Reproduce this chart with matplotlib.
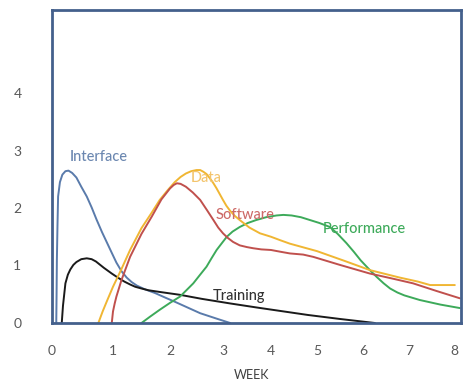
import numpy as np
import matplotlib
matplotlib.use("Agg")
import matplotlib.pyplot as plt

# ---- data (week, effort) ----
interface_x = [0.07, 0.075, 0.08, 0.09, 0.10, 0.13, 0.17, 0.22, 0.27, 0.33, 0.40, 0.48, 0.57, 0.65, 0.73, 0.82, 0.90, 0.98, 1.06, 1.15, 1.24, 1.33, 1.42, 1.55, 1.74, 1.92, 2.09, 2.33, 2.57, 2.90, 3.15]
interface_y = [0.0, 0.5, 1.1, 1.7, 2.2, 2.45, 2.58, 2.64, 2.65, 2.61, 2.53, 2.37, 2.20, 2.01, 1.80, 1.58, 1.40, 1.22, 1.05, 0.90, 0.79, 0.71, 0.65, 0.59, 0.52, 0.44, 0.37, 0.27, 0.17, 0.07, 0.0]

training_x = [0.16, 0.18, 0.22, 0.26, 0.30, 0.35, 0.40, 0.48, 0.57, 0.65, 0.72, 0.85, 0.98, 1.10, 1.20, 1.30, 1.39, 1.50, 1.62, 1.82, 2.19, 2.60, 3.15, 3.70, 4.20, 4.80, 5.50, 6.26]
training_y = [0.0, 0.30, 0.69, 0.84, 0.93, 1.01, 1.06, 1.11, 1.125, 1.11, 1.07, 0.96, 0.86, 0.78, 0.72, 0.67, 0.63, 0.60, 0.57, 0.54, 0.49, 0.42, 0.34, 0.27, 0.21, 0.14, 0.07, 0.0]

data_x = [0.76, 0.83, 0.90, 1.00, 1.14, 1.30, 1.50, 1.68, 1.82, 1.96, 2.09, 2.20, 2.30, 2.40, 2.50, 2.57, 2.63, 2.69, 2.75, 2.82, 2.88, 2.94, 3.00, 3.07, 3.15, 3.25, 3.35, 3.55, 3.77, 4.00, 4.20, 4.41, 5.00, 5.60, 6.15, 6.80, 7.20, 7.47, 8.02]
data_y = [0.0, 0.20, 0.38, 0.63, 0.92, 1.27, 1.65, 1.92, 2.14, 2.31, 2.45, 2.54, 2.60, 2.64, 2.66, 2.66, 2.63, 2.59, 2.52, 2.43, 2.34, 2.24, 2.14, 2.04, 1.95, 1.86, 1.79, 1.66, 1.56, 1.50, 1.44, 1.38, 1.25, 1.08, 0.92, 0.79, 0.72, 0.66, 0.66]

software_x = [0.98, 1.00, 1.03, 1.06, 1.15, 1.30, 1.50, 1.68, 1.85, 2.00, 2.07, 2.13, 2.20, 2.30, 2.43, 2.57, 2.70, 2.82, 2.91, 3.00, 3.10, 3.21, 3.35, 3.50, 3.63, 3.80, 4.00, 4.20, 4.41, 4.70, 4.92, 5.50, 6.15, 6.60, 7.09, 7.60, 8.13]
software_y = [0.0, 0.20, 0.34, 0.46, 0.75, 1.15, 1.55, 1.85, 2.15, 2.34, 2.40, 2.43, 2.42, 2.37, 2.27, 2.14, 1.96, 1.79, 1.66, 1.56, 1.48, 1.41, 1.35, 1.32, 1.30, 1.28, 1.27, 1.24, 1.21, 1.19, 1.15, 1.01, 0.86, 0.78, 0.69, 0.56, 0.43]

perf_x = [1.50, 1.65, 1.82, 2.00, 2.19, 2.31, 2.44, 2.56, 2.69, 2.78, 2.88, 2.98, 3.08, 3.20, 3.35, 3.52, 3.69, 3.90, 4.12, 4.27, 4.45, 4.65, 4.85, 5.05, 5.28, 5.45, 5.64, 5.80, 5.95, 6.15, 6.30, 6.45, 6.59, 6.75, 6.90, 7.24, 7.70, 8.13]
perf_y = [0.0, 0.11, 0.23, 0.35, 0.46, 0.57, 0.69, 0.83, 0.98, 1.12, 1.27, 1.39, 1.50, 1.59, 1.67, 1.74, 1.79, 1.84, 1.87, 1.88, 1.87, 1.84, 1.79, 1.74, 1.67, 1.55, 1.39, 1.24, 1.09, 0.92, 0.80, 0.69, 0.60, 0.53, 0.48, 0.40, 0.32, 0.26]

x_ticks = [0, 1, 2, 3, 4, 5, 6, 7, 8]
y_ticks = [0, 1, 2, 3, 4]

# axis calibration of the (non-uniform) week axis in the original picture
scale_weeks = [-1, 0, 1, 2, 3, 4, 5, 6, 7, 8, 9]
scale_pos = [-9, 52, 113, 170, 223, 271, 317, 363, 409, 454, 499]

W, H = 469, 381
fig = plt.figure(figsize=(W / 100, H / 100), dpi=100)
plt.rcParams['font.family'] = ['Lato', 'DejaVu Sans']

ax = fig.add_axes([52 / W, 1 - 323 / H, (460.7 - 52) / W, (323 - 10) / H])

def fwd(x):
    return np.interp(x, scale_weeks, scale_pos)

def inv(p):
    return np.interp(p, scale_pos, scale_weeks)

ax.set_xscale('function', functions=(fwd, inv))

lw = 1.4
kw = dict(lw=lw, solid_joinstyle='round', solid_capstyle='round')
ax.plot(interface_x, interface_y, color='#5a7bab', **kw)
ax.plot(training_x, training_y, color='#1a1a1a', **kw)
ax.plot(perf_x, perf_y, color='#3daa5a', **kw)
ax.plot(data_x, data_y, color='#f0b633', **kw)
ax.plot(software_x, software_y, color='#c0504d', **kw)

ax.set_xlim(0, 8.15)
ax.set_ylim(0, (323 - 10) / 57.5)
ax.set_xticks(x_ticks)
ax.set_xticklabels([str(t) for t in x_ticks])
ax.set_yticks(y_ticks)
ax.set_yticklabels([str(t) for t in y_ticks])
ax.tick_params(axis='both', length=0, labelsize=10, labelcolor='#595959')
ax.tick_params(axis='x', pad=16)
ax.tick_params(axis='y', pad=22)
for s in ax.spines.values():
    s.set_color('#44608c')
    s.set_linewidth(2)

# series labels
def lab(px, py, text, color):
    fig.text(px / W, 1 - py / H, text, color=color, fontsize=10.5,
             ha='center', va='center', fontweight='medium')

lab(98.5, 157, 'Interface', '#6b87b0')
lab(206, 178, 'Data', '#f3c46c')
lab(245, 215, 'Software', '#cd6a68')
lab(364.5, 229, 'Performance', '#3daa5a')
lab(239, 296, 'Training', '#333333')

fig.text(252 / W, 1 - 375 / H, 'WEEK', color='#404040', fontsize=9,
         ha='center', va='center')

fig.savefig('out.png', dpi=100)
